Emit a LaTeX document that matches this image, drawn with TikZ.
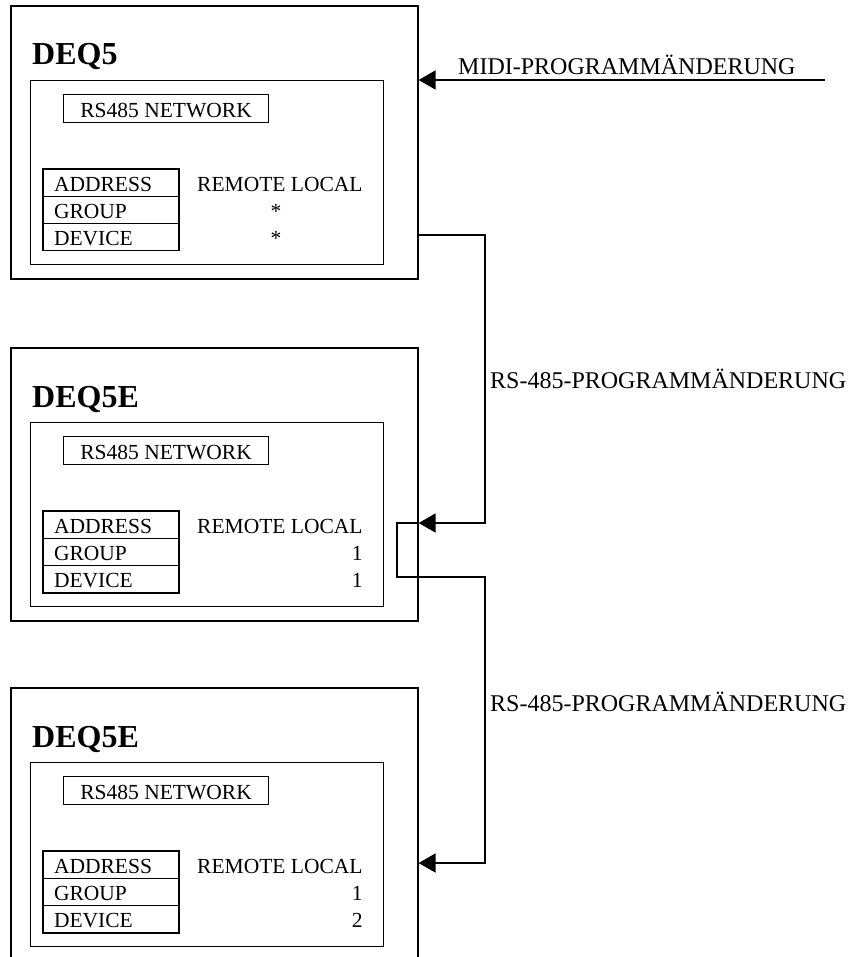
\documentclass[tikz,border=0pt]{standalone}
\usepackage{fontspec}
\setmainfont{Liberation Serif}
\usetikzlibrary{arrows.meta}
\tikzset{
  x=1pt, y=1pt,
  outerbox/.style={draw, line width=1.6pt, minimum width=407pt, minimum height=273pt, inner sep=0pt, anchor=north west},
  innerbox/.style={draw, line width=1.2pt, minimum width=353pt, minimum height=184pt, inner sep=0pt, anchor=north west},
  netbox/.style={draw, line width=1.2pt, minimum width=205pt, minimum height=28pt, inner sep=0pt, text height=17pt, text depth=0pt, anchor=north west, font=\bodyfont},
  cell/.style={draw, line width=1.2pt, outer sep=0pt, text width=114pt, align=left, inner xsep=11pt, inner ysep=0pt, minimum height=27.3pt, text height=17pt, text depth=0pt, anchor=north west, font=\bodyfont},
  plain/.style={inner sep=0pt, font=\bodyfont},
  title/.style={inner sep=0pt, anchor=base west, font=\bfseries\fontsize{32}{34}\selectfont},
  lbl/.style={inner sep=0pt, anchor=base west, font=\fontsize{24}{26}\selectfont},
  conn/.style={line width=1.6pt, -{Triangle[length=17pt, width=19pt]}},
}
\newcommand\bodyfont{\fontsize{21.5}{24}\selectfont}
% #1 prefix, #2 top y, #3 title
\newcommand\devpanel[3]{%
  \node[outerbox] (#1) at (10,{-(#2)}) {};
  \node[title] (#1t) at (32,{-(#2+60)}) {#3};
  \node[innerbox] (#1i) at (30,{-(#2+75)}) {};
  \node[netbox] (#1n) at (63,{-(#2+89)}) {RS485 NETWORK};
  \node[cell] (#1a) at (43,{-(#2+164)}) {ADDRESS};
  \node[cell] (#1g) at (#1a.south west) {GROUP};
  \node[cell] (#1d) at (#1g.south west) {DEVICE};
  \node[plain, anchor=base west] (#1rl) at (197,{-(#2+186.2)}) {REMOTE LOCAL};
}
\begin{document}
\begin{tikzpicture}
\useasboundingbox (0,0) rectangle (855,-957);

\devpanel{b1}{5}{DEQ5}
\devpanel{b2}{347}{DEQ5E}
\devpanel{b3}{687}{DEQ5E}

% values
\node[plain, anchor=base] (b1gv) at (b1g.base -| 276,0) {*};
\node[plain, anchor=base] (b1dv) at (b1d.base -| 276,0) {*};
\node[plain, anchor=base east] (b2gv) at (b2g.base -| b2rl.east) {1};
\node[plain, anchor=base east] (b2dv) at (b2d.base -| b2rl.east) {1};
\node[plain, anchor=base east] (b3gv) at (b3g.base -| b3rl.east) {1};
\node[plain, anchor=base east] (b3dv) at (b3d.base -| b3rl.east) {2};

% labels
\node[lbl] (midilbl) at (458,-75) {MIDI-PROGRAMMÄNDERUNG};
\node[lbl] (rslbl1) at (490,-388) {RS-485-PROGRAMMÄNDERUNG};
\node[lbl] (rslbl2) at (490,-711) {RS-485-PROGRAMMÄNDERUNG};

% connectors
\coordinate (midistart) at (825,-80);
\coordinate (bus1) at (485,-235);
\coordinate (hit2) at (485,-523);
\coordinate (loop) at (397,-577);
\coordinate (hit3) at (485,-863);

\draw[conn] (midistart) -- (midistart -| b1.east);
\draw[conn] (bus1 -| b1.east) -- (bus1) -- (hit2) -- (hit2 -| b2.east);
\draw[conn] (hit2 -| b2.east) -- (loop |- hit2) -- (loop) -| (hit3) -- (hit3 -| b3.east);
\end{tikzpicture}
\end{document}
